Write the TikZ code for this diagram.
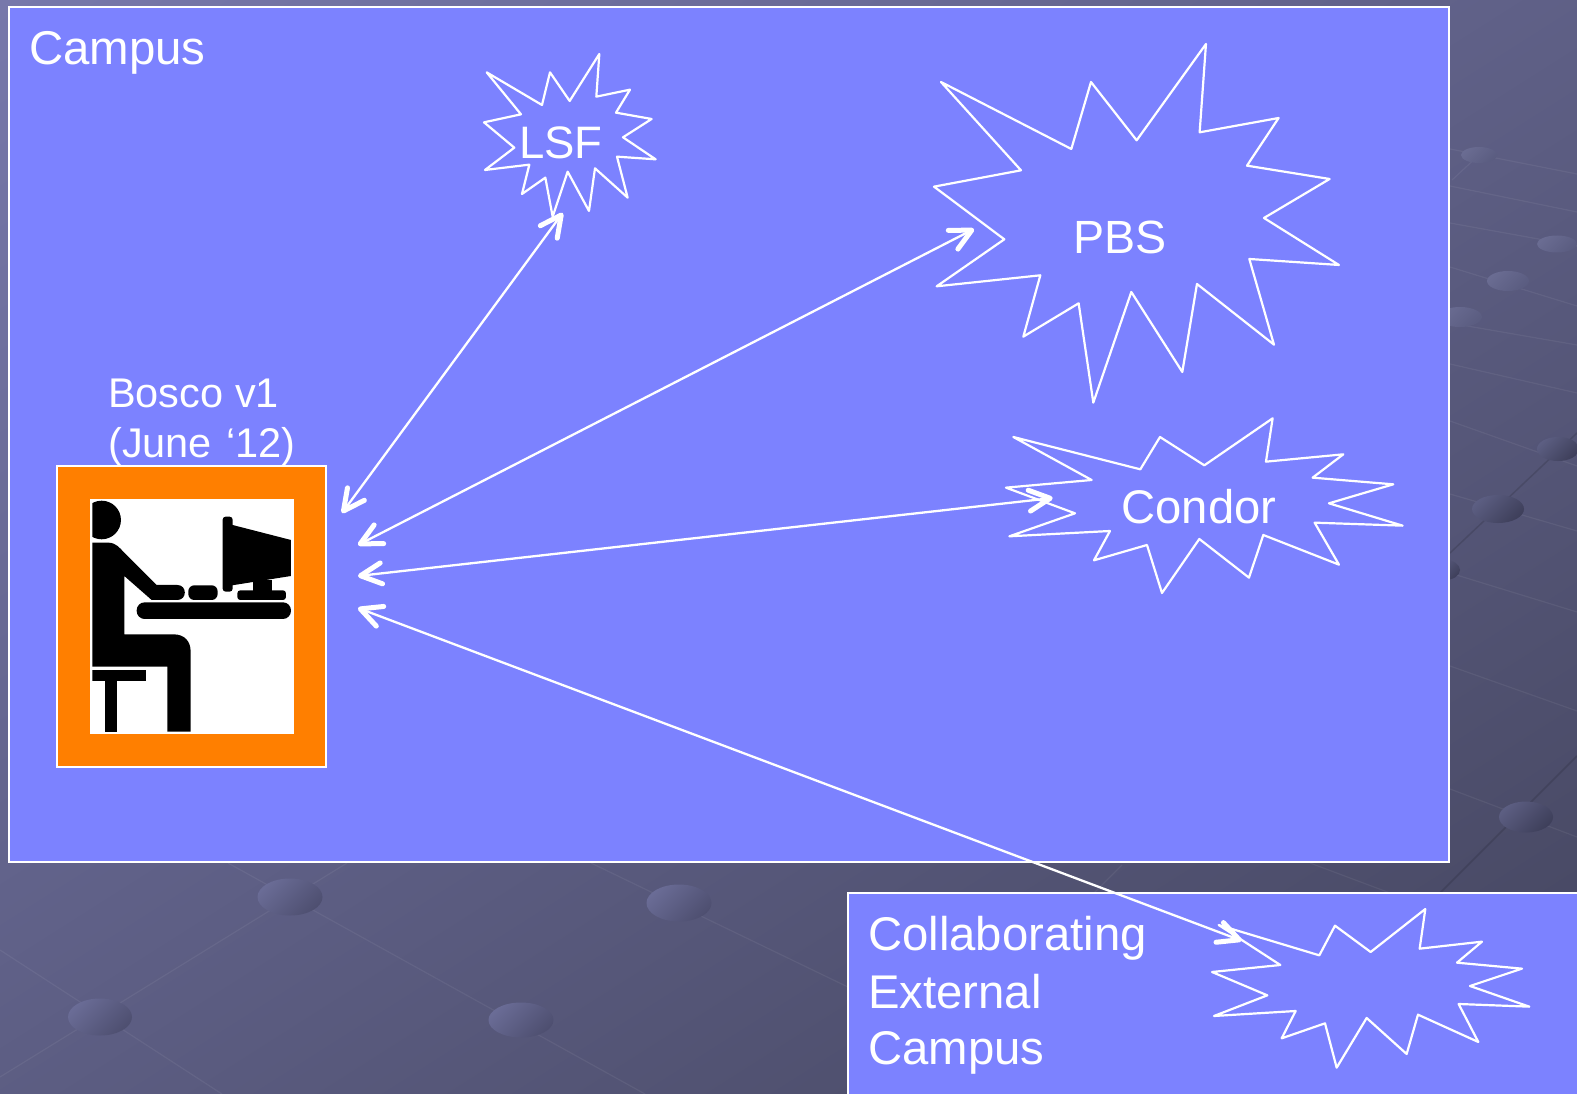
\documentclass[tikz,border=0pt]{standalone}
\usepackage{fontspec}
\setmainfont{Liberation Sans}
\usetikzlibrary{arrows.meta}
\definecolor{panelblue}{RGB}{124,130,255}
\definecolor{boscoorange}{RGB}{255,127,0}
\definecolor{bgstart}{RGB}{119,120,171}
\definecolor{bgend}{RGB}{68,69,94}
\tikzset{
  x=1pt,y=-1pt,
  panel/.style={fill=panelblue,draw=white,line width=2.6pt},
  burst/.style={draw=white,line width=2.2pt,line join=round,shift={#1},x=0.3333pt,y=-0.3333pt},
  label/.style={text=white,inner sep=0pt,anchor=base,font=\fontsize{#1}{#1}\selectfont},
  link/.style={draw=white,line width=2.3pt,{Straight Barb[length=21pt,width=21pt,line width=5pt,round]}-{Straight Barb[length=21pt,width=21pt,line width=5pt,round]}},
  gridline/.style={draw=white,draw opacity=0.06,line width=1.2pt},
  darkline/.style={draw=black,draw opacity=0.13,line width=1.5pt},
  dotA/.style={top color=bgdotA,bottom color=bgdotB,shading angle=45},
  dotB/.style={top color=bgdotC,bottom color=bgdotD,shading angle=45},
  dotC/.style={top color=bgdotE,bottom color=bgdotF,shading angle=45},
}
\definecolor{bgdotA}{RGB}{106,108,150}
\definecolor{bgdotB}{RGB}{78,79,112}
\definecolor{bgdotC}{RGB}{106,108,146}
\definecolor{bgdotD}{RGB}{90,92,128}
\definecolor{bgdotE}{RGB}{92,94,130}
\definecolor{bgdotF}{RGB}{62,63,90}
\begin{document}
\begin{tikzpicture}
\useasboundingbox (0,0) rectangle (1577,1094);
\clip (0,0) rectangle (1577,1094);
% background gradient
\begin{scope}[transform canvas={rotate=-57.6}]
  \shade[left color=bgstart,right color=bgend] (0,-1600) rectangle (1769,1600);
\end{scope}
% background grid
\draw[gridline] (228,863) -- (645,1094);
\draw[gridline] (347,863) -- (0,1077);
\draw[gridline] (0,950) -- (222,1094);
\draw[gridline] (591,863) -- (850,988);
\draw[gridline] (1310,863) -- (1390,893);
\draw[gridline] (1122,865) -- (1094,893);
\draw[gridline] (1450,149) -- (1577,174);
\draw[gridline] (1450,186) -- (1577,212);
\draw[gridline] (1450,223) -- (1577,246);
\draw[gridline] (1450,267) -- (1577,306);
\draw[gridline] (1450,323) -- (1577,345);
\draw[gridline] (1450,364) -- (1577,393);
\draw[gridline] (1450,421) -- (1577,466);
\draw[gridline] (1450,494) -- (1577,531);
\draw[gridline] (1450,573) -- (1577,612);
\draw[gridline] (1450,666) -- (1577,711);
\draw[gridline] (1450,789) -- (1577,837);
\draw[gridline] (1452,180) -- (1479,155);
\draw[darkline] (1450,553) -- (1577,433);
\draw[darkline] (1577,756) -- (1440,893);
% background dots
\shade[dotA] (290,897) ellipse [x radius=32.5,y radius=18.5];
\shade[dotA] (679,903) ellipse [x radius=32.5,y radius=18.5];
\shade[dotA] (100,1017) ellipse [x radius=32,y radius=18.5];
\shade[dotA] (521,1020) ellipse [x radius=32.5,y radius=17.5];
\shade[dotB] (1479,155) ellipse [x radius=18,y radius=8];
\shade[dotB] (1557,244) ellipse [x radius=20,y radius=8.5];
\shade[dotB] (1508,281) ellipse [x radius=21,y radius=10];
\shade[dotB] (1460,317) ellipse [x radius=22,y radius=10];
\shade[dotC] (1558,449) ellipse [x radius=21,y radius=12];
\shade[dotC] (1498,509) ellipse [x radius=26,y radius=14];
\shade[dotC] (1445,570) ellipse [x radius=15,y radius=10];
\shade[dotC] (1526,817) ellipse [x radius=27,y radius=15.5];
% panels
\path[panel] (9,7) rectangle (1449,862);
\path[panel] (848,893) rectangle (1590,1110);
% panel labels
\node[label=47.4,anchor=base west] (campus) at (29,65) {Campus};
\node[label=41.5,anchor=base west] (bosco1) at (108,407) {Bosco v1};
\node[label=41.5,anchor=base west] (bosco2) at (108,457) {(June\hspace{3pt} ‘12)};
\node[label=47.3,anchor=base west] (collab1) at (868,950) {Collaborating};
\node[label=47.3,anchor=base west] (collab2) at (868,1008) {External};
\node[label=47.3,anchor=base west] (collab3) at (868,1064) {Campus};
% Bosco icon
\path[fill=boscoorange,draw=white,line width=2.6pt] (57,466) rectangle (326,767);
\begin{scope}[shift={(40,450)},x=0.3333pt,y=-0.3333pt]
  \fill[white] (149,146) rectangle (762,853);
  \begin{scope}
    \clip (157,153) rectangle (753,845);
    \fill[black] (185,210) circle [radius=19.3pt];
    \fill[black] (157,278) -- (205,278) .. controls (228,278) and (240,295) .. (250,305) -- (350,405) -- (412,405) .. controls (442,405) and (442,450) .. (412,450) -- (335,450) -- (253,378) -- (253,553) -- (400,553) .. controls (435,553) and (452,575) .. (452,605) -- (452,845) -- (382,845) -- (382,650) -- (157,650) -- cycle;
    \fill[black] (157,660) rectangle (318,693);
    \fill[black] (195,693) rectangle (232,845);
    \fill[black,rounded corners=6pt] (445,406) rectangle (533,450);
    \fill[black,rounded corners=3pt] (548,200) rectangle (578,425);
    \fill[black] (570,223) -- (753,270) -- (753,378) -- (570,407) -- cycle;
    \fill[black] (640,390) rectangle (695,430);
    \fill[black,rounded corners=3pt] (592,421) rectangle (738,450);
    \fill[black,rounded corners=8pt] (290,457) rectangle (753,507);
  \end{scope}
\end{scope}
% bursts
\draw[burst={(460,40)}] (80,97) -- (246,195) -- (270,97) -- (329,183) -- (418,42) -- (409,170) -- (510,149) -- (468,218) -- (575,237) -- (489,292) -- (587,358) -- (471,350) -- (503,473) -- (405,385) -- (387,513) -- (323,395) -- (278,530) -- (256,413) -- (186,462) -- (208,374) -- (75,390) -- (163,323) -- (72,247) -- (183,223) -- cycle;
\draw[burst={(920,30)}] (63,156) -- (454,357) -- (513,156) -- (650,331) -- (858,42) -- (839,307) -- (1076,264) -- (981,407) -- (1229,447) -- (1032,564) -- (1257,705) -- (988,687) -- (1062,944) -- (831,762) -- (787,1026) -- (634,786) -- (520,1118) -- (476,820) -- (310,920) -- (361,736) -- (50,769) -- (253,628) -- (42,470) -- (303,421) -- cycle;
\draw[burst={(990,405)}] (70,96) -- (451,193) -- (510,96) -- (643,181) -- (848,40) -- (828,170) -- (1060,148) -- (968,218) -- (1210,238) -- (1017,295) -- (1238,362) -- (974,353) -- (1047,479) -- (820,390) -- (777,518) -- (628,402) -- (516,564) -- (471,420) -- (312,466) -- (360,378) -- (58,394) -- (255,325) -- (48,248) -- (305,225) -- cycle;
\draw[burst={(1200,900)}] (56,75) -- (358,166) -- (405,77) -- (512,156) -- (676,27) -- (659,146) -- (846,125) -- (771,188) -- (966,206) -- (810,258) -- (988,320) -- (776,312) -- (835,426) -- (654,344) -- (620,462) -- (500,354) -- (410,503) -- (375,370) -- (245,415) -- (287,333) -- (42,348) -- (202,286) -- (36,216) -- (241,195) -- cycle;
% burst labels
\node[label=45.5] (lsf) at (561,159) {LSF};
\node[label=46.6] (pbs) at (1120,254) {PBS};
\node[label=47.2] (condor) at (1199,523) {Condor};
% connector ends
\coordinate (toLSF) at (562.7,213);
\coordinate (toPBS) at (974,229);
\coordinate (toCondor) at (1052.7,498);
\coordinate (toExternal) at (1241.7,940.7);
\coordinate (fromLSF) at (342,513);
\coordinate (fromPBS) at (358,545);
\coordinate (fromCondor) at (358,576);
\coordinate (fromExternal) at (358,608);
% connectors
\draw[link] (fromLSF) -- (toLSF);
\draw[link] (fromPBS) -- (toPBS);
\draw[link] (fromCondor) -- (toCondor);
\draw[link] (fromExternal) -- (toExternal);
\end{tikzpicture}
\end{document}
